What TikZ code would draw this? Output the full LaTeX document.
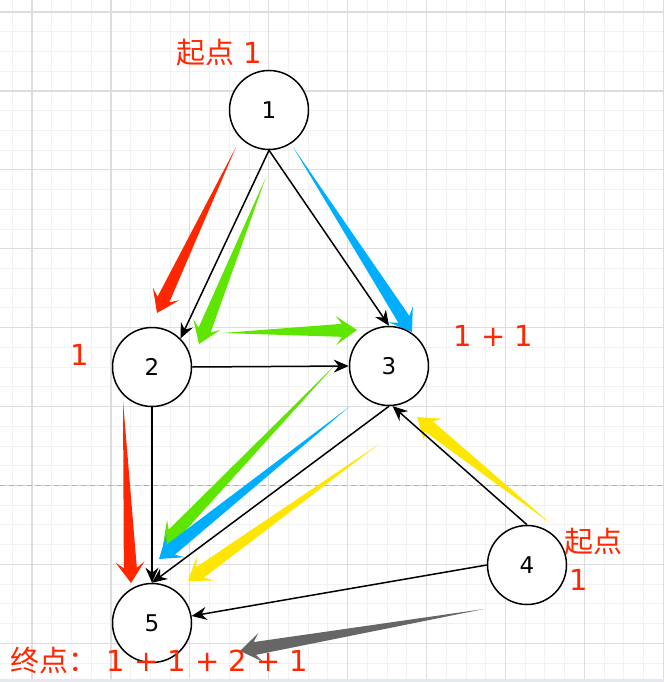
\documentclass[tikz,border=0pt]{standalone}
\usepackage{fontspec}
\setmainfont{DejaVu Sans}
\newfontfamily\cjk{Noto Sans CJK SC}
\usetikzlibrary{calc,arrows.meta}
\definecolor{cred}{HTML}{FF2600}
\definecolor{cgreen}{HTML}{5FE600}
\definecolor{cblue}{HTML}{00AEFF}
\definecolor{cyellow}{HTML}{FFE600}
\definecolor{cgray}{HTML}{666666}
\definecolor{gminor}{HTML}{F2F2F2}
\definecolor{gmajor}{HTML}{DDDDDD}
\definecolor{bband}{HTML}{E4E8EC}
\newcommand{\taparrow}[3]{%
  \coordinate (tN) at ($(#3)!15pt!(#2)$);
  \coordinate (tC) at ($(#3)!21pt!(#2)$);
  \fill[#1] (#2) -- ($(tN)!6.5pt!90:(#3)$) -- ($(tC)!14.5pt!90:(#3)$)
    -- (#3) -- ($(tC)!14.5pt!-90:(#3)$) -- ($(tN)!6.5pt!-90:(#3)$) -- cycle;}
\tikzset{
  vert/.style={circle,draw=black,line width=1.5pt,fill=white,minimum size=79pt,inner sep=0pt,font=\fontsize{23}{26}\selectfont},
  edge/.style={line width=1.5pt,-{Stealth[length=15pt,width=13pt,inset=5pt]}},
  lbl/.style={text=cred,inner sep=0pt,font=\fontsize{29}{33}\selectfont},
}
\begin{document}
\begin{tikzpicture}[x=1pt,y=-1pt]
\useasboundingbox (0,0) rectangle (664,682);
% grid
\foreach \i in {-1,...,34} {
  \draw[gminor,line width=1pt] ({12.27+19.73*\i},0) -- ({12.27+19.73*\i},682);
  \draw[gminor,line width=1pt] (0,{12+19.73*\i}) -- (664,{12+19.73*\i});
}
\foreach \i in {0,...,8} {
  \draw[gmajor,line width=1.2pt] ({32+78.92*\i},0) -- ({32+78.92*\i},682);
  \draw[gmajor,line width=1.2pt] (0,{12+78.92*\i}) -- (664,{12+78.92*\i});
}
\draw[gray!60,line width=1pt,dash pattern=on 5pt off 4pt] (0,485) -- (664,485);
\fill[bband] (0,679) rectangle (664,682);
% tapered coloured arrows
\coordinate (r1a) at (236,147); \coordinate (r1b) at (157,313);
\coordinate (r2a) at (123,401); \coordinate (r2b) at (131,583);
\coordinate (g1a) at (266,177); \coordinate (g1b) at (199,344);
\coordinate (g2a) at (222,333); \coordinate (g2b) at (357,330);
\coordinate (b1a) at (293,147); \coordinate (b1b) at (412,332);
\coordinate (g3a) at (336,364); \coordinate (g3b) at (163,545);
\coordinate (b2a) at (349,407); \coordinate (b2b) at (159,559);
\coordinate (y1a) at (379,444); \coordinate (y1b) at (188,581);
\coordinate (y2a) at (550,523); \coordinate (y2b) at (417,417);
\coordinate (k1a) at (484,609); \coordinate (k1b) at (240,651);
\taparrow{cred}{r1a}{r1b}
\taparrow{cred}{r2a}{r2b}
\taparrow{cgreen}{g1a}{g1b}
\taparrow{cgreen}{g2a}{g2b}
\taparrow{cblue}{b1a}{b1b}
\taparrow{cgreen}{g3a}{g3b}
\taparrow{cblue}{b2a}{b2b}
\taparrow{cyellow}{y1a}{y1b}
\taparrow{cyellow}{y2a}{y2b}
\taparrow{cgray}{k1a}{k1b}
% nodes
\node[vert] (n1) at (269,110) {1};
\node[vert] (n2) at (152,367) {2};
\node[vert] (n3) at (389,366) {3};
\node[vert] (n4) at (527,565) {4};
\node[vert] (n5) at (152,623) {5};
% edges
\draw[edge] (n1.south) -- (n2.north east);
\draw[edge] (n1.south) -- (n3.north);
\draw[edge] (n2.east) -- (n3.west);
\draw[edge] (n2.south) -- (n5.north);
\draw[edge] (n3.south) -- (n5.north);
\draw[edge] (n4.north) -- (n3.-85);
\draw[edge] (n4.west) -- (n5.10);
% labels
\node[lbl,anchor=west] (t1) at (176,53) {{\cjk 起点} 1};
\node[lbl,anchor=west] (t2) at (453.5,336) {1 + 1};
\node[lbl,anchor=west] (t3) at (70.5,355) {1};
\node[lbl,anchor=west,align=left] (t4) at (564,559) {{\cjk 起点}\\[5pt]\hspace{5pt}1};
\node[lbl,anchor=west] (t5) at (10,660) {{\cjk 终点：} 1 + 1 + 2 + 1};
\end{tikzpicture}
\end{document}
